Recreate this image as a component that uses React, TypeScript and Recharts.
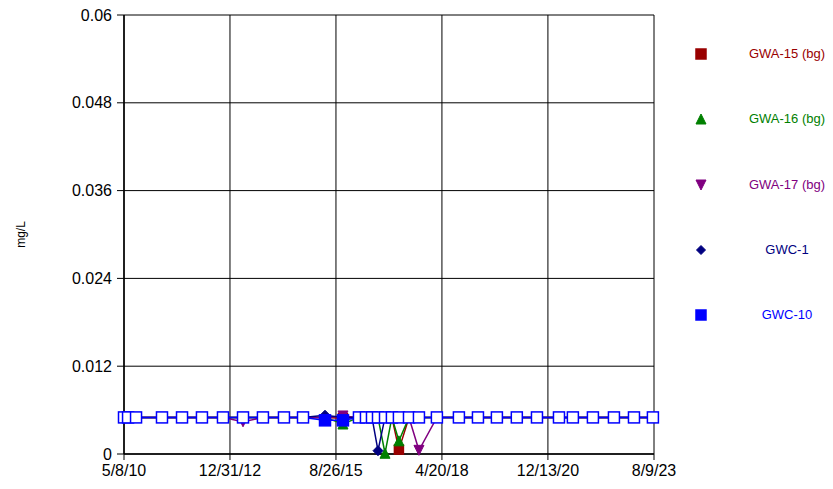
import { LineChart, Line, XAxis, YAxis, CartesianGrid } from 'recharts';

// axis ticks as printed on the chart
const xTickLabels = ['5/8/10', '12/31/12', '8/26/15', '4/20/18', '12/13/20', '8/9/23'];
const yTicks = [0, 0.012, 0.024, 0.036, 0.048, 0.06];

// non-detects are reported at the reporting limit
const reportingLimit = 0.005;

const sampleDates = [
  '2010-05-08', '2010-06-14', '2010-08-26', '2011-04-20', '2011-10-20', '2012-04-19',
  '2012-10-28', '2013-04-29', '2013-10-28', '2014-05-08', '2014-10-29', '2015-05-18',
  '2015-10-29', '2016-03-23', '2016-05-26', '2016-07-20', '2016-09-13', '2016-11-16',
  '2017-01-18', '2017-03-23', '2017-06-23', '2017-09-22', '2018-03-05', '2018-09-22',
  '2019-03-15', '2019-09-04', '2020-03-04', '2020-09-04', '2021-03-24', '2021-07-29',
  '2022-01-28', '2022-08-08', '2023-02-07', '2023-07-30',
];

const gwa15Values = [
  0.005, 0.005, 0.005, 0.005, 0.005, 0.005,
  0.005, 0.005, 0.005, 0.005, 0.005, 0.005,
  0.0049, 0.005, 0.005, 0.005, 0.005, 0.005,
  0.005, 0.0006, 0.005, 0.005, 0.005, 0.005,
  0.005, 0.005, 0.005, 0.005, 0.005, 0.005,
  0.005, 0.005, 0.005, 0.005,
];

const gwa16Values = [
  0.005, 0.005, 0.005, 0.005, 0.005, 0.005,
  0.005, 0.005, 0.005, 0.005, 0.005, 0.005,
  0.0041, 0.005, 0.005, 0.005, 0.005, 0.0001,
  0.005, 0.0018, 0.005, 0.005, 0.005, 0.005,
  0.005, 0.005, 0.005, 0.005, 0.005, 0.005,
  0.005, 0.005, 0.005, 0.005,
];

const gwa17Values = [
  0.005, 0.005, 0.005, 0.005, 0.005, 0.005,
  0.005, 0.0044, 0.005, 0.005, 0.005, 0.005,
  0.0052, 0.005, 0.005, 0.005, 0.005, 0.005,
  0.005, 0.005, 0.005, 0.0005, 0.005, 0.005,
  0.005, 0.005, 0.005, 0.005, 0.005, 0.005,
  0.005, 0.005, 0.005, 0.005,
];

const gwc1Values = [
  0.005, 0.005, 0.005, 0.005, 0.005, 0.005,
  0.005, 0.005, 0.005, 0.005, 0.005, 0.0053,
  0.005, 0.005, 0.005, 0.005, 0.00045, 0.005,
  0.005, 0.005, 0.005, 0.005, 0.005, 0.005,
  0.005, 0.005, 0.005, 0.005, 0.005, 0.005,
  0.005, 0.005, 0.005, 0.005,
];

const gwc10Values = [
  0.005, 0.005, 0.005, 0.005, 0.005, 0.005,
  0.005, 0.005, 0.005, 0.005, 0.005, 0.0046,
  0.0046, 0.005, 0.005, 0.005, 0.005, 0.005,
  0.005, 0.005, 0.005, 0.005, 0.005, 0.005,
  0.005, 0.005, 0.005, 0.005, 0.005, 0.005,
  0.005, 0.005, 0.005, 0.005,
];

type Shape = 'square' | 'triangleUp' | 'triangleDown' | 'diamond';

const series: { key: string; name: string; color: string; shape: Shape; values: number[]; hollow: boolean }[] = [
  { key: 'gwa15', name: 'GWA-15 (bg)', color: '#990000', shape: 'square', values: gwa15Values, hollow: false },
  { key: 'gwa16', name: 'GWA-16 (bg)', color: '#008000', shape: 'triangleUp', values: gwa16Values, hollow: false },
  { key: 'gwa17', name: 'GWA-17 (bg)', color: '#800080', shape: 'triangleDown', values: gwa17Values, hollow: false },
  { key: 'gwc1', name: 'GWC-1', color: '#000080', shape: 'diamond', values: gwc1Values, hollow: false },
  { key: 'gwc10', name: 'GWC-10', color: '#0000FF', shape: 'square', values: gwc10Values, hollow: true },
];

const DAY = 86400000;
const FONT = 'Arial, "Liberation Sans", sans-serif';

const toDay = (iso: string) => Math.round(Date.parse(iso + 'T00:00:00Z') / DAY);
const labelToDay = (label: string) => {
  const [m, d, y] = label.split('/').map(Number);
  return Math.round(Date.UTC(2000 + y, m - 1, d) / DAY);
};
const formatDay = (day: number) => {
  const dt = new Date(day * DAY);
  return `${dt.getUTCMonth() + 1}/${dt.getUTCDate()}/${String(dt.getUTCFullYear()).slice(2)}`;
};

const xTicks = xTickLabels.map(labelToDay);

const table = sampleDates.map((d, i) => {
  const row: Record<string, number> = { day: toDay(d) };
  series.forEach((s) => {
    row[s.key] = s.values[i];
  });
  return row;
});

function Marker({ shape, cx, cy, size, fill, stroke }: { shape: Shape; cx: number; cy: number; size: number; fill: string; stroke: string }) {
  const h = size / 2;
  if (shape === 'square') {
    return <rect x={cx - h} y={cy - h} width={size} height={size} fill={fill} stroke={stroke} strokeWidth={1.5} />;
  }
  if (shape === 'triangleUp') {
    return <polygon points={`${cx},${cy - h} ${cx + h},${cy + h} ${cx - h},${cy + h}`} fill={fill} stroke={stroke} />;
  }
  if (shape === 'triangleDown') {
    return <polygon points={`${cx - h},${cy - h} ${cx + h},${cy - h} ${cx},${cy + h}`} fill={fill} stroke={stroke} />;
  }
  return <polygon points={`${cx},${cy - h} ${cx + h},${cy} ${cx},${cy + h} ${cx - h},${cy}`} fill={fill} stroke={stroke} />;
}

const makeDot = (shape: Shape, color: string, hollow: boolean) => (props: any) => {
  const { cx, cy, value, index } = props;
  const detected = value !== reportingLimit;
  if (cx == null || cy == null || (!detected && !hollow)) return <g key={index} />;
  const size = shape === 'square' ? (hollow ? 11 : 9) : 10;
  return (
    <g key={index}>
      <Marker shape={shape} cx={cx} cy={cy} size={size} fill={detected ? color : '#fff'} stroke={color} />
    </g>
  );
};

function ChartLegend() {
  return (
    <div style={{ position: 'absolute', left: 680, top: 0, width: 153, height: 489, fontFamily: FONT }}>
      {series.map((s, i) => {
        const y = 54 + i * 65.3;
        return (
          <div key={s.key}>
            <svg style={{ position: 'absolute', left: 14, top: y - 7 }} width={14} height={14}>
              <Marker shape={s.shape} cx={7} cy={7} size={s.shape === 'diamond' ? 9 : 10} fill={s.color} stroke={s.color} />
            </svg>
            <div
              style={{
                position: 'absolute',
                left: 47,
                width: 120,
                top: y - 9,
                textAlign: 'center',
                fontSize: 13,
                lineHeight: '18px',
                color: s.color,
              }}
            >
              {s.name}
            </div>
          </div>
        );
      })}
    </div>
  );
}

export default function App() {
  return (
    <div style={{ position: 'absolute', left: 0, top: 0, width: 833, height: 489, background: '#fff' }}>
      <LineChart
        width={833}
        height={489}
        data={table}
        margin={{ top: 15, right: 179, bottom: 5, left: 0 }}
        style={{ fontFamily: FONT }}
      >
        <CartesianGrid stroke="#000" strokeWidth={1} />
        <XAxis
          dataKey="day"
          type="number"
          domain={[xTicks[0], xTicks[xTicks.length - 1]]}
          ticks={xTicks}
          tickFormatter={formatDay}
          height={30}
          tickSize={6}
          tickMargin={5}
          tick={{ fontSize: 16, fill: '#000', fontFamily: FONT }}
          axisLine={{ stroke: '#000', strokeWidth: 1.5 }}
          tickLine={{ stroke: '#000' }}
        />
        <YAxis
          type="number"
          domain={[0, 0.06]}
          ticks={yTicks}
          width={124}
          tickSize={7}
          tickMargin={5}
          tick={{ fontSize: 16, fill: '#000', fontFamily: FONT }}
          axisLine={{ stroke: '#000', strokeWidth: 1.5 }}
          tickLine={{ stroke: '#000' }}
          label={{ value: 'mg/L', angle: -90, position: 'insideLeft', offset: 21, style: { textAnchor: 'middle', fontSize: 12, fill: '#000', fontFamily: FONT } }}
        />
        {series.map((s) => (
          <Line
            key={s.key}
            dataKey={s.key}
            name={s.name}
            type="linear"
            stroke={s.color}
            strokeWidth={1.5}
            dot={makeDot(s.shape, s.color, s.hollow)}
            activeDot={false}
            isAnimationActive={false}
          />
        ))}
      </LineChart>
      <ChartLegend />
    </div>
  );
}
